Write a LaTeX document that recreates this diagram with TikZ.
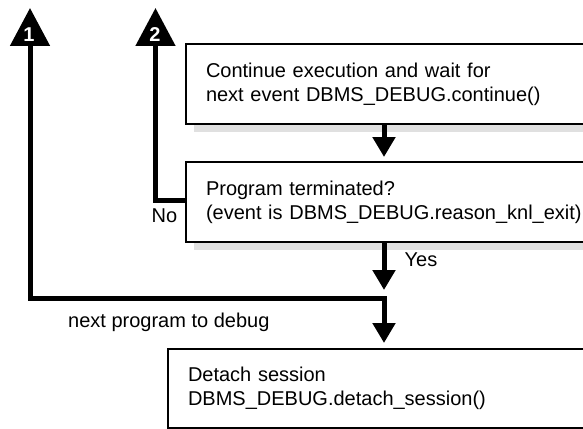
\documentclass[tikz,border=0pt]{standalone}
\usepackage{fontspec}
\setmainfont{Liberation Sans}
\usetikzlibrary{arrows.meta,shadows,calc}
\begin{document}
\begin{tikzpicture}[x=1pt,y=-1pt,
  box/.style={draw=black, line width=2pt, fill=white, anchor=north west,
    text width=380pt, inner xsep=20pt, inner ysep=0pt, minimum height=80pt,
    align=left, font=\fontsize{20}{24}\selectfont,
    drop shadow={shadow xshift=8pt,shadow yshift=-8pt,fill=black!12,opacity=1}},
  flow/.style={line width=5pt, line join=miter},
  smalltip/.style={-{Triangle[width=22pt,length=20pt]}},
  bigtip/.style={{Triangle[width=39pt,length=38pt]}-},
  bothtips/.style={{Triangle[width=39pt,length=38pt]}-{Triangle[width=22pt,length=20pt]}},
  lbl/.style={inner sep=0pt, font=\fontsize{20}{24}\selectfont},
  numlbl/.style={inner sep=0pt, text=white, font=\fontsize{20}{24}\selectfont\bfseries}
]
\useasboundingbox (0,0) rectangle (583,428);
\clip (0,0) rectangle (583,428);

% boxes
\node[box] (b1) at (185,43) {Continue execution and wait for\\next event DBMS\_DEBUG.continue()};
\node[box] (b2) at (185,161) {Program terminated?\\(event is DBMS\_DEBUG.reason\_knl\_exit)};
\node[box, minimum height=79pt] (b3) at (167,348) {Detach session\\DBMS\_DEBUG.detach\_session()};

% helper coordinates
\coordinate (ax) at (384,0);
\coordinate (c1) at (30,8);
\coordinate (c2) at (155.5,8);
\coordinate (turn) at (30,298);
\coordinate (yesend) at (384,290);

% connectors
\draw[flow, smalltip, shorten >=4pt] (b1.south -| ax) -- (b2.north -| ax);
\draw[flow, smalltip] (b2.south -| ax) -- (yesend);
\draw[flow, bothtips, shorten >=5pt] (c1) |- (ax |- turn) -- (b3.north -| ax);
\draw[flow, bigtip] (c2) |- ($(b2.west)+(0,-2)$);

% connector numbers
\node[numlbl] (n1) at (29,34.5) {1};
\node[numlbl] (n2) at (155,34.5) {2};

% labels
\node[lbl] (lno) at (164.5,216) {No};
\node[lbl] (lyes) at (421,260) {Yes};
\node[lbl, anchor=west] (lnext) at (68,322) {next program to debug};
\end{tikzpicture}
\end{document}
